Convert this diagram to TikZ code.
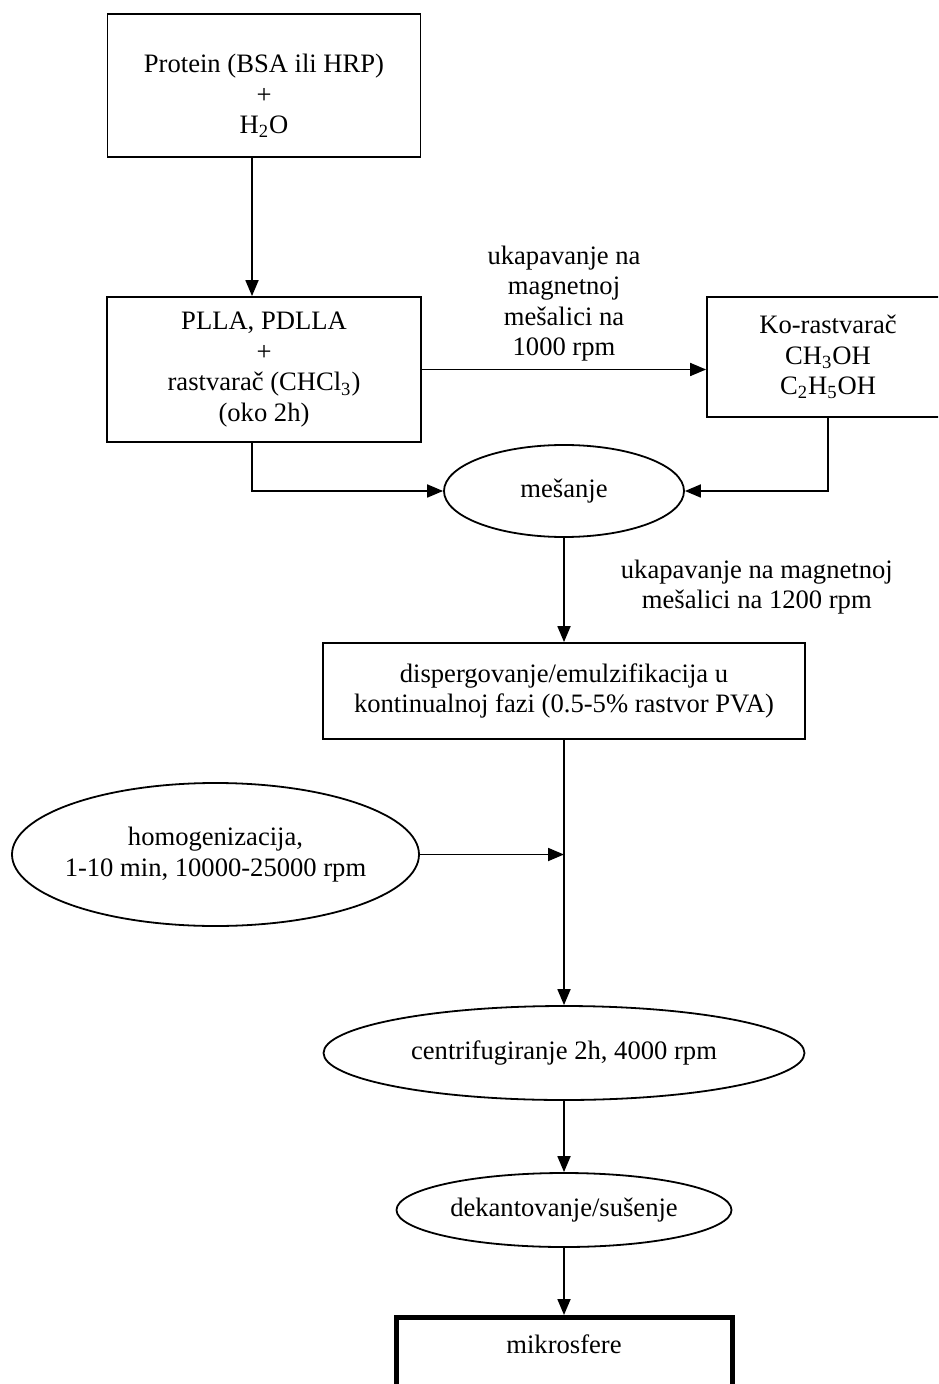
\documentclass[tikz,border=0pt]{standalone}
\usepackage{fontspec}
\setmainfont{Liberation Serif}
\usepackage{tikz}
\usetikzlibrary{arrows.meta,shapes.geometric}
\tikzset{
    arr/.style={line width=0.9pt,-{Triangle[length=8pt,width=6.5pt]}},
    procbox/.style={draw,line width=0.9pt,rectangle,align=center,inner sep=0pt},
    oval/.style={draw,line width=0.9pt,ellipse,align=center,inner sep=0pt},
    txt/.style={align=center,inner sep=0pt},
}

\begin{document}
\begin{tikzpicture}[x=0.5pt,y=-0.5pt,font=\fontsize{13.3}{15.3}\selectfont]
\useasboundingbox (0,0) rectangle (938,1384);
\clip (0,0) rectangle (938,1384);
\node[procbox,minimum width=156.5pt,minimum height=71.5pt] (prot) at (264,85.5) {};
\node[txt] (prottxt) at (264,96) {Protein (BSA ili HRP)\\+\\H\textsubscript{2}O};
\node[procbox,minimum width=157pt,minimum height=72.5pt] (poly) at (264,369.5) {PLLA, PDLLA\\+\\rastvarač (CHCl\textsubscript{3})\\(oko 2h)};
\node[procbox,minimum width=121pt,minimum height=60pt] (kor) at (828,357) {Ko-rastvarač\\CH\textsubscript{3}OH\\C\textsubscript{2}H\textsubscript{5}OH};
\node[oval,minimum width=120pt,minimum height=46pt] (mes) at (564,491) {mešanje};
\node[procbox,minimum width=241pt,minimum height=48pt] (disp) at (564,691) {dispergovanje/emulzifikacija u\\kontinualnoj fazi (0.5-5\% rastvor PVA)};
\node[oval,inner xsep=-3.5pt,minimum width=203.5pt,minimum height=71.5pt] (homog) at (215.5,854.5) {homogenizacija,\\1-10 min, 10000-25000 rpm};
\node[oval,minimum width=240.5pt,minimum height=47pt] (cent) at (564,1053) {centrifugiranje 2h, 4000 rpm};
\node[oval,minimum width=167.5pt,minimum height=37pt] (dek) at (564,1210) {dekantovanje/sušenje};
\node[procbox,line width=2.5pt,minimum width=168pt,text height=9pt,text depth=30pt,inner ysep=8.75pt,anchor=north] (mik) at (564,1315) {mikrosfere};

\draw[arr] ([xshift=-6pt]prot.south) -- ([xshift=-6pt]poly.north);
\draw[arr] (poly.east) -- (poly.east -| kor.west) node[txt,midway,above,yshift=3.5pt] {ukapavanje na\\magnetnoj\\mešalici na\\1000 rpm};
\draw[arr] ([xshift=-6pt]poly.south) |- (mes.west);
\draw[arr] (kor.south) |- (mes.east);
\draw[arr] (mes.south) -- (disp.north) node[txt,midway,anchor=west,xshift=28pt,yshift=1.5pt] {ukapavanje na magnetnoj\\mešalici na 1200 rpm};
\coordinate (hit) at (disp.south |- homog.east);
\draw[arr] (disp.south) -- (cent.north);
\draw[arr] (homog.east) -- (hit);
\draw[arr] (cent.south) -- (dek.north);
\draw[arr] (dek.south) -- (mik.north);
\end{tikzpicture}
\end{document}
